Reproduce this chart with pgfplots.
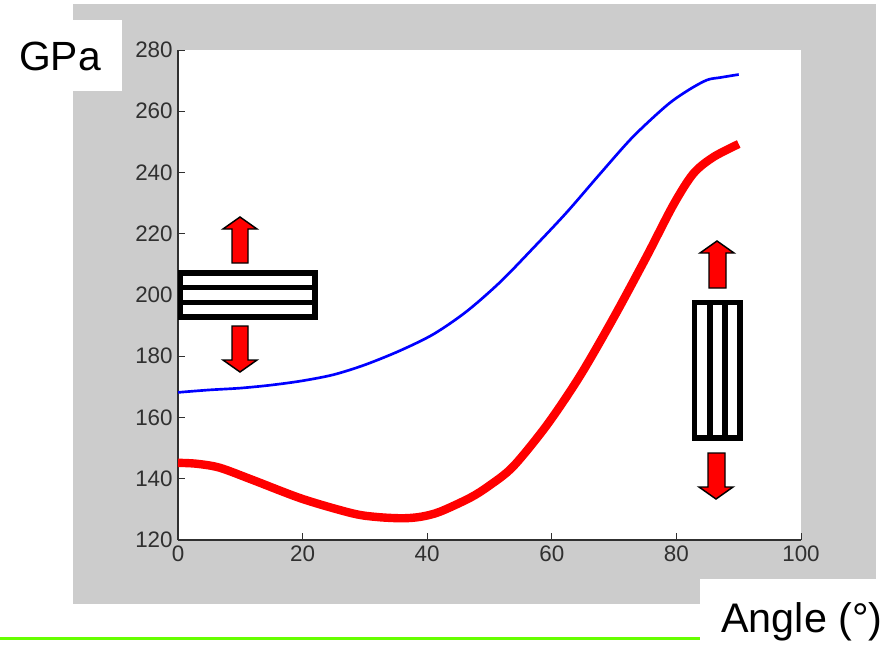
\documentclass[border=0pt]{standalone}
\usepackage{pgfplots}
\pgfplotsset{compat=1.18}
\usepackage{fontspec}
\setmainfont{Liberation Sans}
\definecolor{panel}{HTML}{CCCCCC}
\definecolor{limeline}{HTML}{66FF00}
\definecolor{tickgray}{HTML}{303030}
\pgfplotstableread{
x y
0 168.2
5 169
10 169.6
15 170.6
20 172
25 174
30 177.2
35.6 181.8
41 187.2
46.3 194.6
51.7 204.2
57 215.3
62.4 227
67.8 239.7
73 251.6
78.5 262
82 267
84.9 270.2
87 271
90 272
}\blue
\pgfplotstableread{
x y
0 145.2
3 144.9
6.7 143.6
12 139.6
20 133.4
28 128.7
32 127.5
36.1 127.1
39 127.6
42 129.2
46.9 133.8
50 137.8
53.8 144
59.2 157.5
64.5 173.5
69.9 192.5
75.2 212.5
79.5 229.4
82.7 239.6
85.9 245
90 249.3
}\red
\begin{document}
\begin{tikzpicture}
\begin{scope}[x=0.75pt,y=-0.75pt]
\useasboundingbox (0,0) rectangle (888,640);
\fill[panel] (73,4) rectangle (876,604);
\fill[white] (73,20) rectangle (122,91);
\fill[white] (700,579) rectangle (888,640);
\fill[limeline] (0,637) rectangle (700,640);
\end{scope}
\begin{axis}[
  at={(133.5pt,-405pt)}, anchor=south west,
  scale only axis, width=467.25pt, height=367.5pt,
  xmin=0, xmax=100, ymin=120, ymax=280,
  xtick={0,20,...,100}, ytick={120,140,...,280},
  axis lines*=left, axis line style={-, tickgray, line width=0.8pt},
  tick style={tickgray, line width=0.7pt}, tick align=inside,
  major tick length=5pt,
  axis background/.style={fill=white},
  tick label style={font=\fontsize{16.8}{18}\selectfont, text=tickgray},
  /pgf/number format/assume math mode=true,
  xticklabel style={yshift=-1pt}, yticklabel style={xshift=-0.5pt},
  clip=false,
]
\addplot[blue, line width=2pt, smooth, tension=0.5] table[x=x,y=y] {\blue};
\addplot[red, line width=6.3pt, line join=round, smooth, tension=0.5] table[x=x,y=y] {\red};
\end{axis}
\begin{scope}[x=0.75pt,y=-0.75pt]
\node[anchor=base, font=\fontsize{30.6}{36}\selectfont] at (60,70) {GPa};
\node[anchor=base, font=\fontsize{31}{36}\selectfont] at (802,632) {Angle (°)};
% left specimen
\draw[line width=3.8pt, fill=white] (180.5,273) rectangle (315,317);
\draw[line width=3.8pt] (180.5,287.5) -- (315,287.5) (180.5,302.5) -- (315,302.5);
% right specimen
\draw[line width=3.8pt, fill=white] (694.5,302.5) rectangle (740,438);
\draw[line width=3.8pt] (710,302.5) -- (710,438) (725,302.5) -- (725,438);
% arrows
\draw[fill=red, line width=1.1pt] (232,263) -- (248,263) -- (248,229) -- (257,229) -- (240,217) -- (223,229) -- (232,229) -- cycle;
\draw[fill=red, line width=1.1pt] (232,326) -- (248,326) -- (248,360) -- (257,360) -- (240,372) -- (223,360) -- (232,360) -- cycle;
\draw[fill=red, line width=1.1pt] (709,288) -- (726,288) -- (726,253) -- (734,253) -- (717,241) -- (700,253) -- (709,253) -- cycle;
\draw[fill=red, line width=1.1pt] (708,453) -- (725,453) -- (725,487) -- (733,487) -- (716,499) -- (699,487) -- (708,487) -- cycle;
\end{scope}
\end{tikzpicture}
\end{document}
